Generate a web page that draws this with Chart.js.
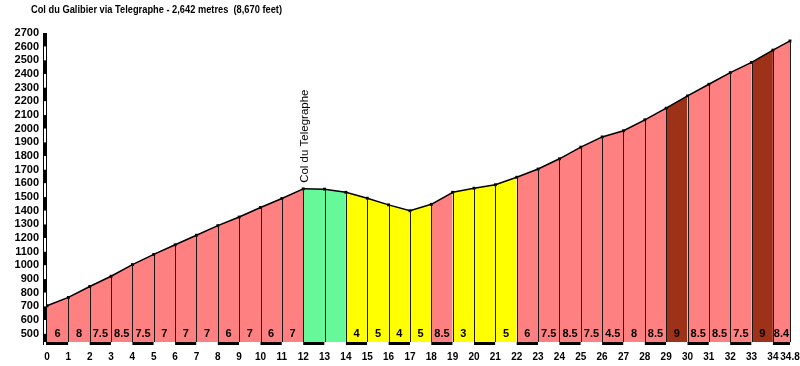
<!DOCTYPE html>
<html>
<head>
<meta charset="utf-8">
<script src="https://cdn.jsdelivr.net/npm/chart.js@4.4.1/dist/chart.umd.min.js"></script>
<style>
  html, body { margin: 0; padding: 0; background: #fff; }
  canvas { display: block; }
</style>
</head>
<body>
<canvas id="profile" width="800" height="366"></canvas>
<script>
const titleText = 'Col du Galibier via Telegraphe - 2,642 metres  (8,670 feet)';
const kms = [0,1,2,3,4,5,6,7,8,9,10,11,12,13,14,15,16,17,18,19,20,21,22,23,24,25,26,27,28,29,30,31,32,33,34,34.8];
const elevations = [705,766,846,921,1006,1081,1151,1221,1291,1354,1424,1490,1560,1558,1535,1492,1443,1400,1447,1535,1565,1590,1645,1705,1780,1865,1940,1985,2065,2150,2240,2325,2410,2485,2575,2642];
// gradient shown in each km segment
const grades = ['6','8','7.5','8.5','7.5','7','7','7','6','7','6','7','','','4','5','4','5','8.5','3','','5','6','7.5','8.5','7.5','4.5','8','8.5','9','8.5','8.5','7.5','9','8.4'];
// difficulty band of each segment
const bands = ['m','m','m','m','m','m','m','m','m','m','m','m','d','d','e','e','e','e','m','e','e','e','m','m','m','m','m','m','m','h','m','m','m','h','m'];
const xTicks = [0,1,2,3,4,5,6,7,8,9,10,11,12,13,14,15,16,17,18,19,20,21,22,23,24,25,26,27,28,29,30,31,32,33,34,34.8];
const yTicks = [500,600,700,800,900,1000,1100,1200,1300,1400,1500,1600,1700,1800,1900,2000,2100,2200,2300,2400,2500,2600,2700];
const summitLabel = 'Col du Telegraphe';
const summitKm = 12;

const bandColors = { m: '#ff8080', d: '#66f99a', e: '#ffff00', h: '#9e3219' };
const family = 'Liberation Sans, Arial, sans-serif';

const decor = {
  id: 'decor',
  afterDatasetsDraw(chart) {
    const ctx = chart.ctx;
    const xs = chart.scales.x, ys = chart.scales.y;
    const bottom = chart.chartArea.bottom;
    ctx.save();
    // km dividers
    ctx.strokeStyle = '#1a1a1a';
    ctx.lineWidth = 1;
    for (let i = 1; i < kms.length; i++) {
      const px = Math.round(xs.getPixelForValue(kms[i])) + 0.5;
      ctx.beginPath();
      ctx.moveTo(px, ys.getPixelForValue(elevations[i]));
      ctx.lineTo(px, bottom);
      ctx.stroke();
    }
    // gradient labels
    ctx.fillStyle = '#000';
    ctx.font = 'bold 11px ' + family;
    ctx.textAlign = 'center';
    ctx.textBaseline = 'middle';
    for (let i = 0; i < grades.length; i++) {
      const mx = (xs.getPixelForValue(kms[i]) + xs.getPixelForValue(kms[i + 1])) / 2;
      ctx.fillText(grades[i], mx, ys.getPixelForValue(500));
    }
    // bottom km strip
    for (let i = 0; i < kms.length - 1; i++) {
      const x0 = xs.getPixelForValue(kms[i]), x1 = xs.getPixelForValue(kms[i + 1]);
      ctx.fillStyle = i % 2 === 0 ? '#000' : '#fff';
      ctx.fillRect(x0, bottom, x1 - x0, 3);
    }
    // y axis scale bar
    const ax = xs.left - 4;
    const stops = [2700].concat(yTicks.slice().reverse().slice(1), [ys.min]);
    for (let i = 0; i < stops.length - 1; i++) {
      const y0 = ys.getPixelForValue(stops[i]), y1 = ys.getPixelForValue(stops[i + 1]);
      ctx.fillStyle = i % 2 === 0 ? '#000' : '#fff';
      ctx.fillRect(ax, y0, 4, y1 - y0);
    }
    ctx.fillStyle = '#000';
    const top = ys.getPixelForValue(2700);
    ctx.fillRect(ax, top, 1, bottom + 3 - top);
    ctx.fillRect(ax + 3, top, 1, bottom + 3 - top);
    // summit label
    const sx = xs.getPixelForValue(summitKm) + 2;
    const sy = ys.getPixelForValue(elevations[kms.indexOf(summitKm)]) - 6;
    ctx.translate(sx, sy);
    ctx.rotate(-Math.PI / 2);
    ctx.font = '11.5px ' + family;
    ctx.textAlign = 'left';
    ctx.fillText(summitLabel, 0, 0);
    ctx.restore();
    // title
    ctx.save();
    ctx.font = 'bold 11px ' + family;
    ctx.fillStyle = '#000';
    ctx.textAlign = 'left';
    ctx.textBaseline = 'middle';
    ctx.fillText(titleText, 31, 10, 251);
    ctx.restore();
  }
};

new Chart(document.getElementById('profile'), {
  type: 'line',
  data: {
    datasets: [{
      data: kms.map((k, i) => ({ x: k, y: elevations[i] })),
      fill: 'start',
      backgroundColor: bandColors.m,
      segment: { backgroundColor: c => bandColors[bands[c.p0DataIndex]] },
      borderColor: '#000',
      borderWidth: 1.5,
      tension: 0,
      pointStyle: 'rect',
      pointRadius: 2,
      pointBackgroundColor: '#000',
      pointBorderWidth: 0,
      clip: false
    }]
  },
  options: {
    responsive: false,
    animation: false,
    layout: { padding: { top: 33, right: 10, left: 0, bottom: 0 } },
    plugins: { legend: { display: false }, tooltip: { enabled: false } },
    scales: {
      x: {
        type: 'linear', min: 0, max: 34.8,
        afterBuildTicks: s => { s.ticks = xTicks.map(v => ({ value: v })); },
        afterFit: s => { s.height = 24; s.paddingRight = 0; s.paddingLeft = 0; },
        grid: { display: false }, border: { display: false },
        ticks: { font: { family: family, size: 10, weight: 'bold' }, color: '#000', autoSkip: false, maxRotation: 0, padding: 1, callback: v => String(v) }
      },
      y: {
        type: 'linear', min: 440, max: 2700,
        afterBuildTicks: s => { s.ticks = yTicks.map(v => ({ value: v })); },
        afterFit: s => { s.width = 47; },
        grid: { display: false }, border: { display: false },
        ticks: { font: { family: family, size: 11, weight: 'bold' }, color: '#000', padding: 0, autoSkip: false, callback: v => String(v) }
      }
    }
  },
  plugins: [decor]
});
</script>
</body>
</html>
